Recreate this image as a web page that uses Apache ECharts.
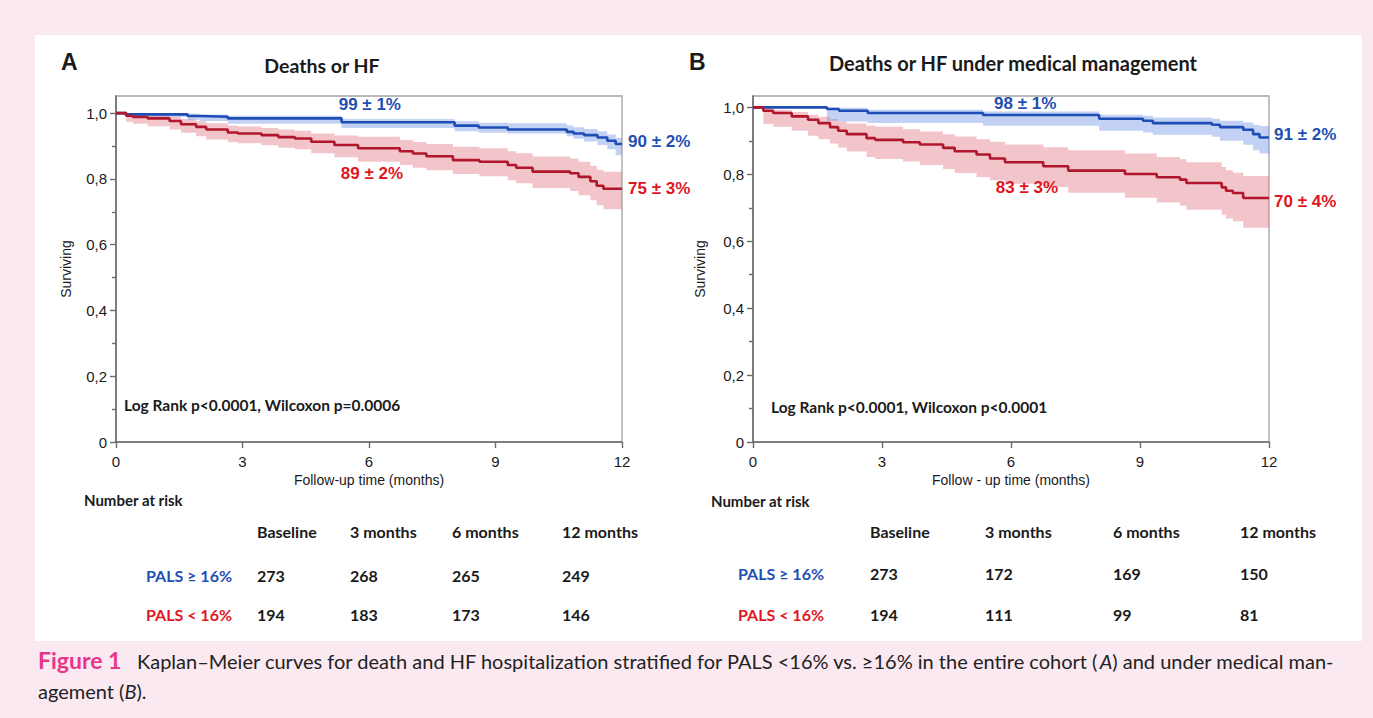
<!DOCTYPE html>
<html><head><meta charset="utf-8">
<script src="https://cdn.jsdelivr.net/npm/echarts@6/dist/echarts.min.js"></script>
<style>html,body{margin:0;padding:0;background:#fae9f1;} #c{width:1373px;height:718px;}</style>
</head><body><div id="c"></div>
<script>
// ---------- data ----------
const monthTicks = [0, 3, 6, 9, 12];
const survTicks = [0, 0.2, 0.4, 0.6, 0.8, 1.0];
const survMinorTicks = [0.1, 0.3, 0.5, 0.7, 0.9];

// Panel A – Deaths or HF
const tA_hi  = [0, 0.24, 1.7, 1.98, 2.65, 5.35, 8.03, 8.6, 9.29, 10.69, 10.85, 11.1, 11.42, 11.65, 11.85, 12];
const sA_hi  = [1, 0.996, 0.991, 0.989, 0.984, 0.972, 0.962, 0.956, 0.95, 0.943, 0.938, 0.933, 0.926, 0.916, 0.906, 0.906];
const upA_hi = [1, 1, 0.998, 0.996, 0.992, 0.982, 0.975, 0.971, 0.969, 0.962, 0.957, 0.952, 0.945, 0.935, 0.925, 0.923];
const loA_hi = [1, 0.989, 0.98, 0.976, 0.968, 0.955, 0.945, 0.94, 0.938, 0.93, 0.922, 0.914, 0.903, 0.89, 0.872, 0.867];

const tA_lo  = [0, 0.24, 0.4, 0.75, 1.27, 1.54, 1.9, 2.14, 2.65, 2.89, 3.45, 3.85, 4.24, 4.63, 5.18, 5.74, 6.73, 7.04, 7.36, 7.99, 8.62, 9.29, 9.49, 9.88, 10.77, 10.97, 11.25, 11.4, 11.56, 12];
const sA_lo  = [1, 0.992, 0.988, 0.984, 0.976, 0.966, 0.958, 0.95, 0.941, 0.938, 0.933, 0.927, 0.923, 0.913, 0.903, 0.893, 0.884, 0.877, 0.869, 0.857, 0.852, 0.842, 0.834, 0.822, 0.817, 0.806, 0.793, 0.779, 0.77, 0.77];
const upA_lo = [1, 1, 0.999, 0.997, 0.99, 0.982, 0.975, 0.969, 0.962, 0.959, 0.955, 0.95, 0.946, 0.938, 0.932, 0.928, 0.918, 0.912, 0.906, 0.898, 0.893, 0.884, 0.878, 0.868, 0.862, 0.852, 0.84, 0.828, 0.822, 0.822];
const loA_lo = [1, 0.974, 0.968, 0.96, 0.95, 0.94, 0.93, 0.92, 0.912, 0.908, 0.902, 0.895, 0.89, 0.878, 0.866, 0.852, 0.842, 0.834, 0.826, 0.815, 0.808, 0.796, 0.787, 0.772, 0.763, 0.75, 0.735, 0.72, 0.708, 0.705];

// Panel B – Deaths or HF under medical management
const tB_hi  = [0, 1.72, 2.0, 2.67, 5.35, 8.05, 9.07, 9.3, 10.67, 10.86, 11.4, 11.63, 11.78, 12];
const sB_hi  = [1, 0.995, 0.99, 0.983, 0.977, 0.966, 0.96, 0.953, 0.948, 0.941, 0.933, 0.92, 0.91, 0.91];
const upB_hi = [1, 1, 0.999, 0.993, 0.988, 0.978, 0.975, 0.97, 0.966, 0.96, 0.955, 0.948, 0.944, 0.944];
const loB_hi = [1, 0.96, 0.958, 0.953, 0.945, 0.93, 0.925, 0.918, 0.912, 0.9, 0.888, 0.872, 0.862, 0.859];

const tB_lo  = [0, 0.24, 0.47, 0.9, 1.28, 1.52, 1.79, 1.98, 2.18, 2.64, 2.84, 3.49, 3.88, 4.42, 4.69, 5.2, 5.51, 5.86, 6.75, 7.33, 8.65, 9.39, 9.93, 10.08, 10.9, 11.0, 11.16, 11.4, 12];
const sB_lo  = [1, 0.99, 0.983, 0.973, 0.963, 0.953, 0.941, 0.93, 0.92, 0.908, 0.903, 0.896, 0.889, 0.879, 0.869, 0.859, 0.847, 0.836, 0.824, 0.811, 0.801, 0.791, 0.784, 0.774, 0.761, 0.751, 0.744, 0.729, 0.729];
const upB_lo = [1, 0.998, 0.992, 0.986, 0.978, 0.972, 0.965, 0.958, 0.952, 0.945, 0.942, 0.935, 0.928, 0.92, 0.913, 0.905, 0.897, 0.889, 0.881, 0.872, 0.862, 0.852, 0.845, 0.836, 0.822, 0.812, 0.805, 0.795, 0.794];
const loB_lo = [1, 0.95, 0.942, 0.93, 0.915, 0.905, 0.892, 0.88, 0.868, 0.852, 0.846, 0.838, 0.828, 0.816, 0.804, 0.792, 0.782, 0.772, 0.762, 0.745, 0.73, 0.716, 0.706, 0.694, 0.679, 0.668, 0.66, 0.64, 0.63];

// curve annotations
const labA = ['99 ± 1%', '90 ± 2%', '89 ± 2%', '75 ± 3%'];
const labB = ['98 ± 1%', '91 ± 2%', '83 ± 3%', '70 ± 4%'];
const pvalA = 'Log Rank p<0.0001, Wilcoxon p=0.0006';
const pvalB = 'Log Rank p<0.0001, Wilcoxon p<0.0001';

// number at risk
const riskCols = ['Baseline', '3 months', '6 months', '12 months'];
const riskGroups = ['PALS ≥ 16%', 'PALS < 16%'];
const riskA_hi = [273, 268, 265, 249];
const riskA_lo = [194, 183, 173, 146];
const riskB_hi = [273, 172, 169, 150];
const riskB_lo = [194, 111, 99, 81];

// ---------- styling ----------
const BLUE = '#1d4db5', RED = '#b0172c', BLUE_T = '#1f4fb3', RED_T = '#e0161f';
const BLUE_BAND = 'rgba(90,130,225,0.36)', RED_BAND = 'rgba(220,95,110,0.36)';
const AX = '#6b6b6b', TXT = '#1a1a1a';
const SANS = 'Liberation Sans';

const zip = (a, b) => a.map((x, i) => [x, b[i]]);

// confidence band drawn as one step-shaped polygon through the axis scales
function bandSeries(ax, t, up, lo, color) {
  return {
    type: 'custom', xAxisIndex: ax.x, yAxisIndex: ax.y, silent: true, z: 1, animation: false,
    data: [[t[0], up[0]]],
    renderItem: (params, api) => {
      const pts = [];
      const n = t.length;
      for (let i = 0; i < n; i++) {
        pts.push(api.coord([t[i], up[i]]));
        if (i < n - 1) pts.push(api.coord([t[i + 1], up[i]]));
      }
      for (let i = n - 1; i >= 0; i--) {
        if (i < n - 1) pts.push(api.coord([t[i + 1], lo[i]]));
        pts.push(api.coord([t[i], lo[i]]));
      }
      return { type: 'polygon', shape: { points: pts }, style: { fill: color } };
    }
  };
}

function kmLine(ax, t, s, lineColor, marks) {
  return { type: 'line', step: 'end', symbol: 'none', silent: true, animation: false,
    xAxisIndex: ax.x, yAxisIndex: ax.y, data: zip(t, s), z: 3,
    lineStyle: { color: lineColor, width: 2.6 },
    markPoint: { symbol: 'circle', symbolSize: 0, silent: true, animation: false,
      label: { show: true, formatter: '{b}', fontFamily: SANS, fontWeight: 'bold', fontSize: 17,
               color: marks.color },
      data: marks.items } };
}

function xAx(grid, name) {
  return { gridIndex: grid, type: 'value', min: 0, max: 12, interval: 3,
    axisLine: { show: true, onZero: false, lineStyle: { color: AX, width: 1.6 } },
    axisTick: { show: true, length: 6, lineStyle: { color: AX, width: 1.4 }, customValues: monthTicks },
    axisLabel: { margin: 12, fontSize: 15, color: TXT, fontFamily: SANS, customValues: monthTicks },
    splitLine: { show: false },
    name: name, nameLocation: 'middle', nameGap: 31,
    nameTextStyle: { fontSize: 14, color: TXT, fontFamily: SANS } };
}
function yAxMain(grid, max, gap) {
  return { gridIndex: grid, type: 'value', min: 0, max: max, position: 'left',
    axisLine: { show: true, onZero: false, lineStyle: { color: AX, width: 1.6 } },
    axisTick: { show: true, length: 6, lineStyle: { color: AX, width: 1.4 }, customValues: survTicks },
    axisLabel: { margin: 9, fontSize: 15, color: TXT, fontFamily: SANS, customValues: survTicks,
      formatter: v => (Math.abs(v) < 1e-9 ? '0' : v.toFixed(1).replace('.', ',')) },
    splitLine: { show: false },
    name: 'Surviving', nameLocation: 'middle', nameGap: gap, nameRotate: 90,
    nameTextStyle: { fontSize: 14, color: TXT, fontFamily: SANS } };
}
function yAxMinor(grid, max) {
  return { gridIndex: grid, type: 'value', min: 0, max: max, position: 'left', offset: 0,
    axisLine: { show: false },
    axisTick: { show: true, length: 4, lineStyle: { color: AX, width: 1.4 }, customValues: survMinorTicks },
    axisLabel: { show: false }, splitLine: { show: false } };
}

const maxA = 1.052, maxB = 1.034;
const axA = { x: 0, y: 0 }, axB = { x: 1, y: 2 };

const series = [
  bandSeries(axA, tA_lo, upA_lo, loA_lo, RED_BAND),
  bandSeries(axA, tA_hi, upA_hi, loA_hi, BLUE_BAND),
  bandSeries(axB, tB_lo, upB_lo, loB_lo, RED_BAND),
  bandSeries(axB, tB_hi, upB_hi, loB_hi, BLUE_BAND),
  kmLine(axA, tA_hi, sA_hi, BLUE, { color: BLUE_T, items: [
      { name: labA[0], coord: [6.02, 1.027], label: { position: 'inside' } },
      { name: labA[1], coord: [12, 0.915], label: { position: 'right', distance: 6 } } ] }),
  kmLine(axA, tA_lo, sA_lo, RED, { color: RED_T, items: [
      { name: labA[2], coord: [6.07, 0.815], label: { position: 'inside' } },
      { name: labA[3], coord: [12, 0.772], label: { position: 'right', distance: 6 } } ] }),
  kmLine(axB, tB_hi, sB_hi, BLUE, { color: BLUE_T, items: [
      { name: labB[0], coord: [6.33, 1.011], label: { position: 'inside' } },
      { name: labB[1], coord: [12, 0.918], label: { position: 'right', distance: 5 } } ] }),
  kmLine(axB, tB_lo, sB_lo, RED, { color: RED_T, items: [
      { name: labB[2], coord: [6.37, 0.76], label: { position: 'inside' } },
      { name: labB[3], coord: [12, 0.718], label: { position: 'right', distance: 5 } } ] })
];

// ---------- graphic texts ----------
function txt(x, y, text, font, fill, align) {
  return { type: 'text', x: x, y: y, silent: true, z: 10,
    style: { text: text, font: font, fill: fill || TXT, align: align || 'left', verticalAlign: 'middle' } };
}
const g = [];
g.push({ type: 'rect', shape: { x: 35, y: 35, width: 1327, height: 606 }, style: { fill: '#ffffff' }, z: -10, silent: true });
// titles
g.push(txt(61, 62, 'A', 'bold 23px "Liberation Sans"'));
g.push(txt(322, 65, 'Deaths or HF', 'bold 19.5px Lato', TXT, 'center'));
g.push(txt(689, 62, 'B', 'bold 23px "Liberation Sans"'));
g.push(txt(1013, 63, 'Deaths or HF under medical management', 'bold 20px Lato', TXT, 'center'));
// p-values
g.push(txt(124, 405, pvalA, 'bold 15.5px Lato'));
g.push(txt(771, 407, pvalB, 'bold 15.5px Lato'));
// risk tables
function riskTable(xLabel, xCols, yTitle, xTitle, yHead, yRows, hi, lo) {
  g.push(txt(xTitle, yTitle, 'Number at risk', 'bold 15px Lato'));
  riskCols.forEach((c, i) => g.push(txt(xCols[i], yHead, c, 'bold 16px Lato')));
  g.push(txt(xLabel, yRows[0], riskGroups[0], 'bold 16px Lato', '#1f4fb3'));
  g.push(txt(xLabel, yRows[1], riskGroups[1], 'bold 16px Lato', '#e0161f'));
  hi.forEach((v, i) => g.push(txt(xCols[i], yRows[0], String(v), 'bold 16px Lato')));
  lo.forEach((v, i) => g.push(txt(xCols[i], yRows[1], String(v), 'bold 16px Lato')));
}
riskTable(146, [257, 350, 452, 562], 500, 84, 531, [575, 614], riskA_hi, riskA_lo);
riskTable(738, [870, 985, 1113, 1240], 501, 711, 531, [573, 614], riskB_hi, riskB_lo);
// caption
g.push(txt(38, 660, 'Figure 1', 'bold 23px Lato', '#e8378b'));
g.push({ type: 'text', x: 137, y: 661, silent: true, z: 10,
  style: { text: '{n|Kaplan–Meier curves for death and HF hospitalization stratified for PALS <16% vs. ≥16% in the entire cohort (}{i|A}{n|) and under medical man-}',
    verticalAlign: 'middle', align: 'left',
    rich: { n: { font: '20px Lato', fill: '#222' }, i: { font: 'italic 20px Lato', fill: '#222' } } } });
g.push({ type: 'text', x: 38, y: 691, silent: true, z: 10,
  style: { text: '{n|agement (}{i|B}{n|).}', verticalAlign: 'middle', align: 'left',
    rich: { n: { font: '20px Lato', fill: '#222' }, i: { font: 'italic 20px Lato', fill: '#222' } } } });

const chart = echarts.init(document.getElementById('c'), null, { renderer: 'svg' });
chart.setOption({
  backgroundColor: '#fae9f1',
  animation: false,
  grid: [
    { left: 116, top: 96, width: 506, height: 346, show: true, borderColor: '#a3a3a3', borderWidth: 1.3,
      backgroundColor: 'transparent', outerBoundsMode: 'none', containLabel: false },
    { left: 753, top: 96, width: 516, height: 346, show: true, borderColor: '#a3a3a3', borderWidth: 1.3,
      backgroundColor: 'transparent', outerBoundsMode: 'none', containLabel: false }
  ],
  xAxis: [xAx(0, 'Follow-up time (months)'), xAx(1, 'Follow - up time (months)')],
  yAxis: [yAxMain(0, maxA, 43), yAxMinor(0, maxA), yAxMain(1, maxB, 46), yAxMinor(1, maxB)],
  series: series,
  graphic: { elements: g }
});
</script></body></html>
